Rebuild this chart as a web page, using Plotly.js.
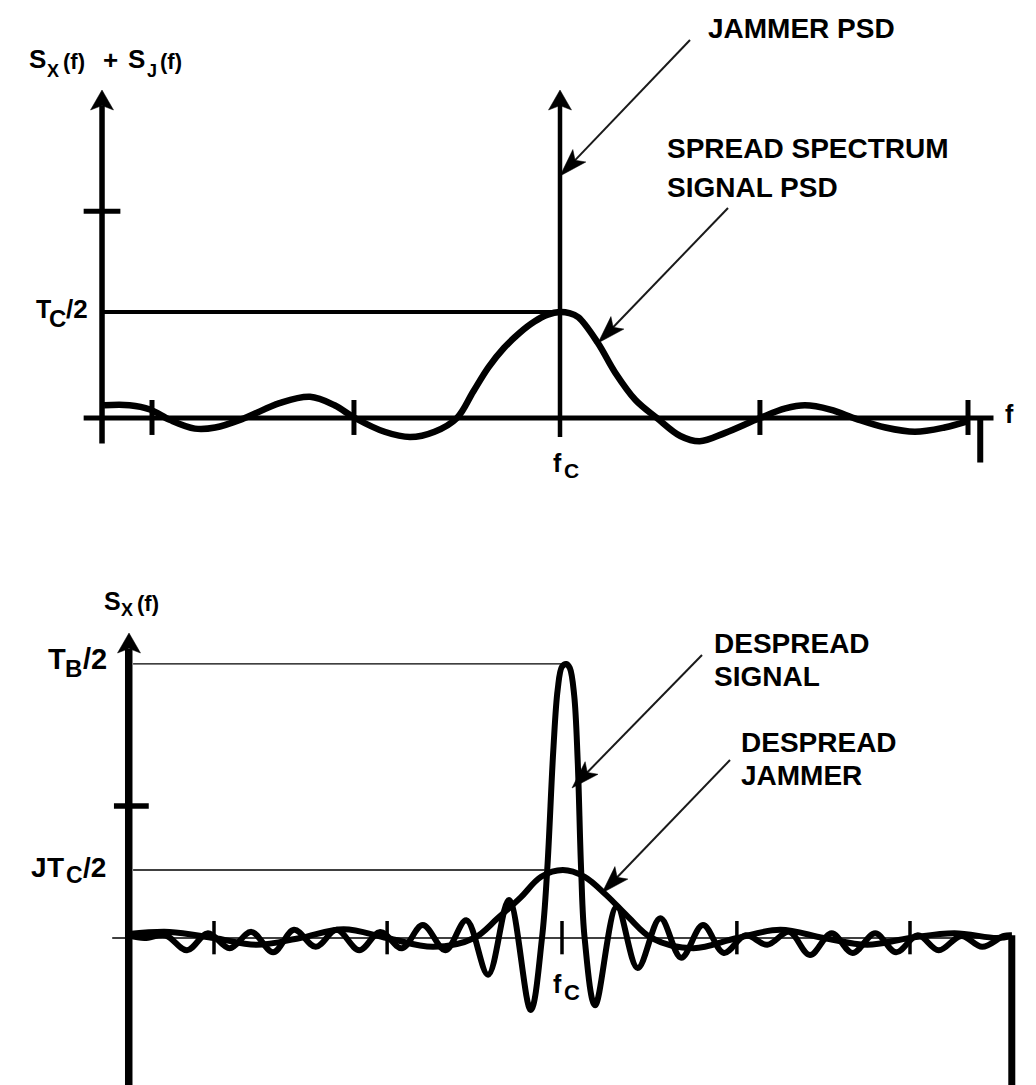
<!DOCTYPE html>
<html><head><meta charset="utf-8">
<script src="https://cdn.plot.ly/plotly-3.0.1.min.js"></script>
<style>html,body{margin:0;padding:0;background:#fff;}#chart{width:1036px;height:1085px;}</style>
</head><body><div id="chart"></div>
<script>
// ===== DATA =====
// Top panel: frequency offset from fc (units of 1/Tc), PSD relative to Tc/2
const topFreq = [-4.47,-4.22,-4.02,-3.82,-3.58,-3.38,-3.09,-2.75,-2.45,-2.21,-2.01,-1.72,-1.47,-1.23,-1.01,-0.85,-0.70,-0.55,-0.40,-0.25,-0.12,0,0.09,0.18,0.37,0.54,0.74,0.95,1.18,1.37,1.62,1.96,2.21,2.40,2.65,2.91,3.19,3.48,3.77,4.00];
const topSpreadPSD = [0.12,0.12,0.08,-0.02,-0.10,-0.09,0,0.14,0.20,0.12,0,-0.13,-0.18,-0.13,0,0.25,0.48,0.66,0.80,0.91,0.975,1.00,0.99,0.95,0.71,0.43,0.17,0,-0.17,-0.22,-0.14,0,0.09,0.12,0.08,-0.01,-0.09,-0.13,-0.09,-0.03];
const topJammerFreq = [0, 0];
const topJammerPSD = [-0.18, 2.96];
const topXTicks = [-4, -2.02, 1.96, 4];
const topYTick = 1.95;
const topTcLevel = 1;

// Bottom panel: frequency offset from fc (units of 1/Tc), PSD relative to JTc/2
const botSignalFreq = [-4.98,-4.80,-4.56,-4.31,-4.07,-3.82,-3.57,-3.32,-3.08,-2.83,-2.59,-2.33,-2.09,-1.84,-1.60,-1.34,-1.10,-0.85,-0.61,-0.36,-0.23,-0.17,-0.10,-0.05,0.00,0.05,0.09,0.14,0.18,0.22,0.26,0.38,0.63,0.87,1.13,1.37,1.62,1.86,2.11,2.36,2.61,2.85,3.10,3.34,3.60,3.84,4.09,4.33,4.59,4.83,5.08,5.17];
const botSignalPSD = [0.04,0.00,0.04,-0.18,0.07,-0.15,0.09,-0.21,0.12,-0.13,0.12,-0.18,0.09,-0.15,0.19,-0.18,0.26,-0.54,0.56,-1.06,0,1.00,2.76,3.65,3.99,4.03,3.97,3.57,2.62,1.00,0,-0.99,0.46,-0.44,0.29,-0.29,0.19,-0.22,0.04,-0.10,0.09,-0.25,0.07,-0.22,0.07,-0.21,0.04,-0.18,0.03,-0.13,0.03,0.04];
const botJammerFreq = [-4.98,-4.51,-4.00,-3.51,-3.01,-2.51,-2.01,-1.48,-1.01,-0.74,-0.48,-0.24,0.01,0.26,0.51,0.76,1.03,1.51,2.01,2.51,3.01,3.51,4.00,4.51,5.00,5.17];
const botJammerPSD = [0.06,0.09,0,-0.10,0,0.13,0,-0.13,0,0.29,0.59,0.90,1.00,0.90,0.63,0.31,0,-0.15,0,0.12,0,-0.10,0,0.07,0,0.03];
const botXTicks = [-4, -2.01, 0, 2.01, 4];
const botYTick = 1.94;
const botTbLevel = 4.03;
const botJTcLevel = 1;

// ===== GEOMETRY (layout only) =====
const W = 1036, H = 1085;
const TOPG = {cx:560, sx:102, cy:418, sy:106};
const BOTG = {cx:562, sx:87, cy:938, sy:68};
const FONT = 'Liberation Sans, Arial, Helvetica, sans-serif';
function pp(px, py){ return [px / W, 1 - py / H]; }

const traces = [
  {x: topFreq, y: topSpreadPSD, xaxis:'x', yaxis:'y', mode:'lines',
   line:{color:'#000', width:6.5, shape:'spline', smoothing:1}, hoverinfo:'skip'},
  {x: topJammerFreq, y: topJammerPSD, xaxis:'x', yaxis:'y', mode:'lines',
   line:{color:'#000', width:4.5}, hoverinfo:'skip'},
  {x: botJammerFreq, y: botJammerPSD, xaxis:'x2', yaxis:'y2', mode:'lines',
   line:{color:'#000', width:6, shape:'spline', smoothing:1}, hoverinfo:'skip'},
  {x: botSignalFreq, y: botSignalPSD, xaxis:'x2', yaxis:'y2', mode:'lines',
   line:{color:'#000', width:6, shape:'spline', smoothing:1}, hoverinfo:'skip'}
];

const shapes = [];
function seg(xr, yr, x0, y0, x1, y1, w){
  shapes.push({type:'line', xref:xr, yref:yr, x0:x0, y0:y0, x1:x1, y1:y1,
    line:{color:'#000', width:w}, layer:'below'});
}
// top axes
seg('x','y', -4.49, -0.24, -4.49, 2.95, 5.5);
seg('x','y', -4.67, 0, 4.25, 0, 5);
seg('x','y', -4.49, topTcLevel, 0, topTcLevel, 4);
seg('x','y', -4.67, topYTick, -4.31, topYTick, 5);
topXTicks.forEach(t => seg('x','y', t, 0.17, t, -0.16, 5));
seg('x','y', 4.12, 0, 4.12, -0.42, 6);
// bottom axes
seg('x2','y2', -4.98, -2.2, -4.98, 4.25, 7.5);
seg('x2','y2', -5.15, botYTick, -4.75, botYTick, 5.5);
seg('x2','y2', -4.93, botTbLevel, 0.03, botTbLevel, 1.3);
seg('x2','y2', -4.93, botJTcLevel, -0.2, botJTcLevel, 1.3);
seg('x2','y2', -5.17, 0, 5.17, 0, 1.5);
botXTicks.forEach(t => seg('x2','y2', t, 0.25, t, -0.24, 3.5));
seg('x2','y2', 5.17, 0.04, 5.17, -2.2, 7);

// arrow heads (pixel geometry -> paper)
function head(tip, tail, len, hw){
  const dx = tail[0]-tip[0], dy = tail[1]-tip[1];
  const L = Math.hypot(dx, dy), ux = dx/L, uy = dy/L, nx = -uy, ny = ux;
  const bx = tip[0]+ux*len, by = tip[1]+uy*len;
  const nb = [tip[0]+ux*len*0.78, tip[1]+uy*len*0.78];
  const pts = [tip, [bx+nx*hw, by+ny*hw], nb, [bx-nx*hw, by-ny*hw]].map(p => pp(p[0], p[1]));
  shapes.push({type:'path', xref:'paper', yref:'paper',
    path:'M'+pts.map(p=>p[0]+','+p[1]).join('L')+'Z',
    fillcolor:'#000', line:{color:'#000', width:0.5}});
}
function arrow(tail, tip){
  const a = pp(tail[0], tail[1]), b = pp(tip[0]+(tail[0]-tip[0])*0.1, tip[1]+(tail[1]-tip[1])*0.1);
  shapes.push({type:'line', xref:'paper', yref:'paper', x0:a[0], y0:a[1], x1:b[0], y1:b[1],
    line:{color:'#1a1a1a', width:2}});
  head(tip, tail, 28, 9);
}
arrow([690,40],[560,176]);
arrow([728,208],[598,343]);
arrow([702,655],[572,788]);
arrow([730,760],[602,893]);
// axis arrow heads
head([102,90],[102,300],20,11.5);
head([560,90],[560,300],20,11.5);
head([129,633],[129,900],20,11.5);

const annotations = [];
function txt(s, px, py, xa, size){
  const p = pp(px, py);
  annotations.push({xref:'paper', yref:'paper', x:p[0], y:p[1], xanchor:xa, yanchor:'middle',
    text:'<b>'+s+'</b>', showarrow:false, font:{family:FONT, size:size||25, color:'#000'}});
}
// top y label: S_X(f) + S_J(f)
txt('S', 27, 59, 'left', 26);
txt('X', 45, 71, 'left', 18);
txt('(f)', 61, 61, 'left', 22);
txt('+', 101, 60, 'left', 26);
txt('S', 126, 59, 'left', 26);
txt('J', 145, 71, 'left', 18);
txt('(f)', 158, 61, 'left', 22);
// T_C/2
txt('T', 34, 309, 'left', 25);
txt('C', 47, 318, 'left', 24);
txt('/2', 64, 309, 'left', 26);
// f_C (top)
txt('f', 551, 463, 'left', 25);
txt('C', 562, 471, 'left', 21);
txt('f', 1003, 414, 'left', 25);
txt('JAMMER PSD', 706, 29, 'left', 28);
txt('SPREAD SPECTRUM', 665, 148, 'left', 28);
txt('SIGNAL PSD', 665, 188, 'left', 28);
// bottom y label S_X(f)
txt('S', 102, 601, 'left', 25);
txt('X', 119, 610, 'left', 18);
txt('(f)', 135, 603, 'left', 22);
// T_B/2
txt('T', 46, 659, 'left', 29);
txt('B', 63, 668, 'left', 24);
txt('/2', 81, 659, 'left', 29);
// JT_C/2
txt('J', 29, 867, 'left', 28);
txt('T', 45, 867, 'left', 28);
txt('C', 64, 875, 'left', 23);
txt('/2', 81, 867, 'left', 28);
// f_C (bottom)
txt('f', 551, 984, 'left', 25);
txt('C', 562, 992, 'left', 22);
txt('DESPREAD', 712, 643, 'left', 28);
txt('SIGNAL', 712, 676, 'left', 28);
txt('DESPREAD', 739, 742, 'left', 28);
txt('JAMMER', 739, 775, 'left', 28);

const ax = {visible:false, fixedrange:true, domain:[0,1]};
const layout = {
  width:W, height:H, margin:{l:0,r:0,t:0,b:0,pad:0},
  paper_bgcolor:'#fff', plot_bgcolor:'#fff', showlegend:false,
  xaxis:Object.assign({}, ax, {range:[(0-TOPG.cx)/TOPG.sx, (W-TOPG.cx)/TOPG.sx]}),
  yaxis:Object.assign({}, ax, {range:[(TOPG.cy-H)/TOPG.sy, TOPG.cy/TOPG.sy]}),
  xaxis2:Object.assign({}, ax, {overlaying:'x', anchor:'y2', range:[(0-BOTG.cx)/BOTG.sx, (W-BOTG.cx)/BOTG.sx]}),
  yaxis2:Object.assign({}, ax, {overlaying:'y', anchor:'x2', range:[(BOTG.cy-H)/BOTG.sy, BOTG.cy/BOTG.sy]}),
  shapes:shapes, annotations:annotations
};
Plotly.newPlot('chart', traces, layout, {displayModeBar:false, staticPlot:true});
</script></body></html>
